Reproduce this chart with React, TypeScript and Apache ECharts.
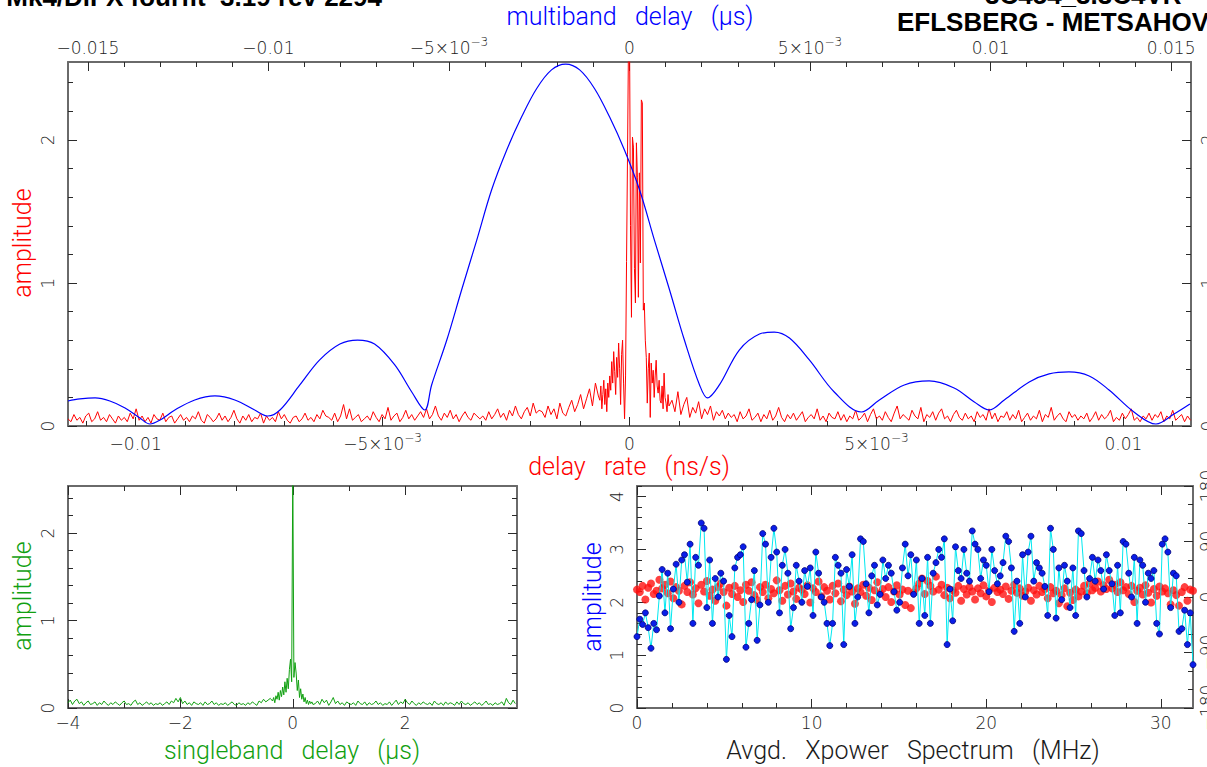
import React, { useEffect, useRef } from 'react';
import * as echarts from 'echarts';

// ---------------- tick labels ----------------
const rateLabels = [-0.01, -0.005, 0, 0.005, 0.01];
const mbdLabels = [-0.015, -0.01, -0.005, 0, 0.005, 0.01, 0.015];
const ampLabels = [0, 1, 2];
const sbdLabels = [-4, -2, 0, 2];
const freqLabels = [0, 10, 20, 30];
const specAmpLabels = [0, 1, 2, 3, 4];
const phaseLabels = [-180, -90, 0, 90, 180];

// ---------------- multiband delay function (blue, top axis) ----------------
// delay in units of 1e-3 microseconds
const mbdDelay = [
  -15.55, -15.22, -14.8, -14.39, -13.97, -13.56, -13.28, -13.0, -12.59, -12.04,
  -11.48, -10.93, -10.38, -10.02, -9.68, -9.13, -8.58, -8.02, -7.53, -7.06,
  -6.5, -6.03, -5.67, -5.48, -5.06, -4.65, -4.23, -3.82, -3.4, -2.99,
  -2.57, -2.16, -1.77, -1.38, -0.97, -0.55, -0.14, 0.28, 0.69, 1.11,
  1.52, 1.94, 2.16, 2.49, 3.04, 3.6, 4.01, 4.43, 4.98, 5.67,
  6.42, 6.92, 7.61, 8.3, 8.99, 9.55, 9.96, 10.38, 11.07, 11.62,
  12.17, 12.73, 13.28, 13.97, 14.58, 15.08, 15.52,
];
const mbdAmp = [
  0.175, 0.189, 0.196, 0.175, 0.126, 0.056, 0.014, 0.042, 0.112, 0.182,
  0.21, 0.182, 0.112, 0.07, 0.112, 0.287, 0.462, 0.573, 0.601, 0.573,
  0.427, 0.238, 0.112, 0.287, 0.601, 0.951, 1.3, 1.65, 1.93, 2.16,
  2.36, 2.49, 2.53, 2.49, 2.36, 2.16, 1.93, 1.65, 1.3, 0.951,
  0.601, 0.287, 0.196, 0.287, 0.531, 0.643, 0.657, 0.615, 0.462, 0.238,
  0.098, 0.182, 0.287, 0.315, 0.266, 0.168, 0.112, 0.182, 0.308, 0.364,
  0.378, 0.35, 0.252, 0.098, 0.014, 0.084, 0.154,
];

// ---------------- delay-rate function (red, bottom axis) ----------------
const rateLeftStart = -0.01137;
const rateLeftStep = 0.00006;
// amplitude x 0.01
const rateLeft = [
  5, 3, 8, 4, 6, 2, 7, 9, 3, 5, 10, 4, 6, 3, 8, 5, 2, 7, 4, 6,
  3, 9, 5, 12, 4, 7, 3, 6, 2, 8, 5, 4, 9, 3, 6, 7, 2, 5, 8, 4,
  6, 3, 7, 5, 10, 4, 2, 8, 6, 3, 5, 9, 4, 7, 3, 6, 11, 5, 2, 7,
  4, 8, 3, 6, 5, 9, 2, 7, 4, 6, 3, 10, 5, 8, 4, 2, 6, 7, 3, 5,
  9, 4, 6, 3, 8, 5, 11, 7, 6, 4, 9, 3, 7, 15, 5, 12, 4, 6, 8, 3,
  5, 7, 4, 10, 6, 3, 8, 5, 13, 4, 7, 9, 3, 6, 11, 5, 8, 4, 7, 10,
  6, 12, 5, 8, 14, 7, 4, 9, 6, 11, 5, 8, 3, 7, 10, 6, 4, 9, 7, 5,
  7, 4, 10, 5, 8, 12, 6, 9, 4, 11, 7, 14, 8, 5, 10, 13, 7, 16, 9, 11,
  10, 6, 14, 8, 12, 5, 16, 9, 7, 13, 18, 10, 15, 22, 12, 19, 26, 14, 30, 21,
];
const rateCoreStart = -0.0006;
const rateCoreStep = 0.00002;
const rateCore = [
  0.18, 0.28, 0.12, 0.22, 0.32, 0.15, 0.26, 0.1, 0.3, 0.2,
  0.35, 0.25, 0.45, 0.3, 0.52, 0.38, 0.22, 0.48, 0.34, 0.58,
  0.4, 0.15, 0.5, 0.6, 0.3, 0.05, 0.35, 1.15, 1.9, 2.7,
  2.8, 1.4, 0.76, 2.02, 1.95, 1.1, 0.86, 1.98, 1.74, 0.9,
  1.77, 1.14, 2.28, 2.26, 0.81, 0.86, 0.6, 0.48, 0.16, 0.4,
  0.51, 0.06, 0.44, 0.3, 0.39, 0.2, 0.35, 0.46, 0.28, 0.23,
  0.32, 0.18, 0.16, 0.28, 0.12, 0.37, 0.2, 0.16, 0.1, 0.22,
  0.14,
];
const rateRightStart = 0.00086;
const rateRightStep = 0.00006;
const rateRight = [
  18, 10, 24, 8, 15, 20, 6, 13, 9, 17, 5, 12, 8, 14, 4, 10, 7, 11, 5, 9,
  6, 8, 3, 10, 5, 7, 12, 4, 6, 9, 3, 8, 5, 11, 4, 7, 13, 6, 3, 8,
  5, 9, 4, 7, 10, 3, 6, 8, 5, 12, 4, 7, 3, 9, 6, 5, 10, 4, 8, 3,
  7, 5, 11, 4, 6, 9, 3, 8, 12, 5, 7, 4, 10, 6, 3, 9, 14, 5, 8, 6,
  4, 11, 7, 5, 13, 3, 8, 6, 10, 4, 9, 12, 5, 7, 3, 8, 11, 6, 4, 9,
  5, 7, 3, 10, 6, 8, 4, 12, 5, 9, 3, 7, 6, 10, 4, 8, 5, 11, 3, 6,
  9, 4, 7, 5, 11, 3, 8, 6, 13, 4, 7, 9, 5, 3, 10, 6, 8, 4, 7, 5,
  9, 3, 6, 10, 4, 8, 5, 7, 11, 3, 6, 4, 9, 5, 8, 12, 4, 6, 3, 7,
  5, 9, 4, 8, 6, 10, 3, 7, 5, 11, 4, 6, 8, 3, 7, 4,
];

// ---------------- singleband delay function (green) ----------------
const sbdLeftStart = -4;
const sbdLeftStep = 0.04;
const sbdLeft = [
  6, 9, 4, 8, 10, 5, 7, 3, 6, 8,
  4, 5, 7, 3, 6, 4, 8, 5, 3, 6,
  4, 7, 5, 3, 6, 8, 4, 5, 3, 7,
  9, 4, 6, 3, 5, 7, 4, 6, 3, 5,
  4, 6, 3, 5, 7, 4, 8, 6, 11, 7,
  12, 5, 8, 4, 6, 3, 7, 5, 4, 6,
  3, 7, 4, 5, 8, 4, 6, 3, 5, 4,
  6, 3, 5, 7, 4, 3, 6, 4, 5, 3,
  6, 4, 7, 5, 3, 8, 6, 10, 7, 9,
  11,
];
const sbdCoreStart = -0.36;
const sbdCoreStep = 0.02;
const sbdCore = [
  0.08, 0.12, 0.06, 0.14, 0.1, 0.18, 0.09, 0.2, 0.13, 0.24,
  0.15, 0.3, 0.18, 0.34, 0.22, 0.44, 0.56, 0.3, 2.7, 0.35,
  0.52, 0.4, 0.2, 0.32, 0.12, 0.22, 0.1, 0.16, 0.07, 0.12,
  0.05, 0.09, 0.04, 0.08, 0.05, 0.07, 0.04,
];
const sbdRightStart = 0.4;
const sbdRightStep = 0.04;
const sbdRight = [
  5, 8, 4, 10, 6, 9, 3, 7, 12, 5,
  8, 4, 6, 3, 7, 5, 4, 6, 3, 8,
  5, 4, 7, 3, 6, 4, 5, 8, 4, 6,
  3, 5, 4, 7, 3, 6, 9, 4, 7, 5,
  10, 6, 4, 8, 5, 3, 6, 4, 7, 5,
  4, 6, 3, 8, 5, 4, 6, 3, 7, 4,
  6, 5, 3, 7, 4, 8, 5, 4, 6, 3,
  5, 7, 4, 6, 3, 5, 8, 4, 5, 3,
  6, 4, 5, 7, 3, 11, 6, 4, 9, 5,
];

// ---------------- averaged cross-power spectrum ----------------
const freqStep = 0.16; // MHz
// amplitude x 0.01
const specAmp = [
  135, 168, 158, 180, 152, 113, 160, 148, 212, 262,
  180, 255, 150, 225, 272, 200, 280, 290, 238, 310,
  160, 285, 270, 350, 340, 190, 280, 160, 245, 210,
  255, 240, 92, 175, 135, 265, 285, 290, 305, 115,
  160, 205, 260, 128, 195, 330, 310, 200, 285, 340,
  295, 180, 270, 300, 255, 150, 190, 270, 240, 200,
  260, 230, 265, 175, 295, 255, 210, 200, 160, 118,
  160, 285, 270, 255, 120, 262, 230, 290, 160, 210,
  320, 315, 235, 180, 250, 270, 195, 215, 280, 245,
  270, 255, 220, 185, 200, 265, 310, 250, 290, 215,
  280, 160, 245, 175, 285, 160, 255, 275, 300, 285,
  320, 120, 225, 165, 305, 260, 245, 300, 255, 240,
  335, 310, 300, 245, 280, 270, 220, 300, 260, 235,
  250, 275, 325, 315, 265, 145, 240, 160, 290, 210,
  295, 325, 240, 275, 265, 255, 230, 175, 340, 300,
  170, 265, 205, 270, 240, 190, 265, 175, 335, 330,
  260, 210, 245, 285, 240, 280, 260, 225, 290, 260,
  235, 175, 270, 180, 315, 310, 255, 210, 285, 160,
  280, 270, 200, 255, 245, 260, 160, 140, 310, 320,
  295, 190, 255, 250, 145, 150, 185, 120, 180, 82,
];
// phase in degrees
const specPhase = [
  12, 8, 18, -4, 15, 22, 5, 10, 28, 14,
  20, 6, 25, -2, 16, 10, -12, 18, 8, 24,
  4, 14, -10, 20, 9, 26, 2, 12, -6, 16,
  22, 8, -14, 15, 5, 18, 0, 11, -8, 20,
  10, 24, 3, -5, 16, 8, 20, -2, 13, 6,
  27, 11, -6, 18, 4, 22, 9, -3, 15, 12,
  5, 19, -9, 14, 8, 25, 1, 16, 10, -4,
  18, 6, 22, -7, 12, 3, 17, 9, -11, 14,
  8, 20, 2, 15, -5, 11, 24, 6, 13, 0,
  16, -8, 9, 19, 4, 12, -13, 10, -18, 7,
  14, 22, 30, 5, 26, 18, 9, 33, 12, 20,
  3, 15, -2, 11, 7, 18, -6, 13, 4, 16,
  9, -4, 14, 6, 19, 1, 11, -8, 15, 8,
  12, 5, 17, -3, 10, 20, 7, 14, 2, 9,
  15, -6, 11, 4, 18, 8, 13, -2, 16, 6,
  10, -10, 3, 14, -15, 7, -5, 12, 1, 9,
  18, 6, 22, 11, 15, 25, 9, 19, 13, 28,
  14, 20, 8, 24, 11, 16, 5, 18, -8, 10,
  15, 4, 19, 7, -9, 13, 2, 17, 9, 14,
  6, -12, 11, 3, -14, 8, 16, -6, 12, 10,
];

// ---------------- helpers ----------------
const FONT = 'Roboto';
const TICK_FONT = '"DejaVu Sans"';
const MINUS = '\u2212';
const LABEL_COLOR = '#1a1a1a';

function steps(a: number, b: number, step: number): number[] {
  const out: number[] = [];
  const k0 = Math.ceil(a / step - 1e-9);
  const k1 = Math.floor(b / step + 1e-9);
  for (let k = k0; k <= k1; k++) out.push(parseFloat((k * step).toFixed(6)));
  return out;
}

const rich = {
  b: { fontFamily: TICK_FONT, fontWeight: 200, fontSize: 17, lineHeight: 22, color: LABEL_COLOR, verticalAlign: 'bottom' },
  s: { fontFamily: TICK_FONT, fontWeight: 200, fontSize: 12, lineHeight: 12, color: LABEL_COLOR, verticalAlign: 'bottom', padding: [0, 0, 8, 0] },
};

function sciLabel(v: number): string {
  if (Math.abs(Math.abs(v) - 0.005) < 1e-9) return `{b|${v < 0 ? MINUS : ''}5×10}{s|${MINUS}3}`;
  return `{b|${String(v).replace('-', MINUS)}}`;
}
function plainLabel(v: number): string {
  return String(v).replace('-', MINUS);
}

type AxisSpec = {
  grid: number; pos: string; min: number; max: number;
  majors: number[]; minors: number[];
  label?: boolean; sci?: boolean; rotate?: number; margin?: number;
};

function buildAxes(spec: AxisSpec): any[] {
  const base = {
    type: 'value', gridIndex: spec.grid, position: spec.pos,
    min: spec.min, max: spec.max, splitLine: { show: false },
  };
  const major = {
    ...base,
    axisLine: { show: true, onZero: false, lineStyle: { color: '#6a6a6a', width: 2 } },
    axisTick: { show: true, inside: true, length: 9, customValues: spec.majors, lineStyle: { color: '#2a2a2a', width: 1 } },
    axisLabel: spec.label ? {
      show: true, customValues: spec.majors, rotate: spec.rotate || 0,
      margin: spec.margin ?? 8,
      formatter: spec.sci ? sciLabel : plainLabel,
      rich: spec.sci ? rich : undefined,
      fontFamily: TICK_FONT, fontWeight: 200, fontSize: 17, color: LABEL_COLOR,
    } : { show: false },
  };
  const minor = {
    ...base,
    axisLine: { show: false, onZero: false },
    axisTick: { show: true, inside: true, length: 5, customValues: spec.minors, lineStyle: { color: '#2a2a2a', width: 1 } },
    axisLabel: { show: false },
  };
  return [major, minor];
}

function titleText(text: string, x: number, y: number, color: string, rotate = false, size = 25) {
  return {
    type: 'text', x, y, rotation: rotate ? Math.PI / 2 : 0, silent: true,
    style: {
      text, fill: color, fontFamily: FONT, fontWeight: 300, fontSize: size,
      align: 'center', verticalAlign: 'middle',
    },
  };
}

function headText(text: string, x: number, y: number, align: string) {
  return {
    type: 'text', x, y, silent: true,
    style: {
      text, fill: '#000', fontFamily: '"Liberation Sans", Arial, sans-serif', fontWeight: 'bold', fontSize: 26,
      align, verticalAlign: 'middle',
    },
  };
}

function buildOption() {
  const xAxes: any[] = [];
  const yAxes: any[] = [];
  const addX = (s: AxisSpec) => { const i = xAxes.length; xAxes.push(...buildAxes(s)); return i; };
  const addY = (s: AxisSpec) => { const i = yAxes.length; yAxes.push(...buildAxes(s)); return i; };

  const RATE_MAX = 0.01137;
  const MBD_MAX = 0.01555;
  const AMP_MAX = 2.545;
  const SBD_MIN = -4, SBD_MAX = 3.99;
  const FREQ_MAX = 31.84;
  const SPEC_MAX = 4.2;

  // top panel
  const xRate = addX({ grid: 0, pos: 'bottom', min: -RATE_MAX, max: RATE_MAX, majors: rateLabels, minors: steps(-RATE_MAX, RATE_MAX, 0.001), label: true, sci: true, margin: 4 });
  const xMbd = addX({ grid: 0, pos: 'top', min: -MBD_MAX, max: MBD_MAX, majors: mbdLabels, minors: steps(-MBD_MAX, MBD_MAX, 0.001), label: true, sci: true, margin: 6 });
  const yAmp = addY({ grid: 0, pos: 'left', min: 0, max: AMP_MAX, majors: ampLabels, minors: steps(0, AMP_MAX, 0.2), label: true, rotate: 90, margin: 12 });
  addY({ grid: 0, pos: 'right', min: 0, max: AMP_MAX, majors: ampLabels, minors: steps(0, AMP_MAX, 0.2), label: true, rotate: 90, margin: 8 });

  // bottom-left panel
  const xSbd = addX({ grid: 1, pos: 'bottom', min: SBD_MIN, max: SBD_MAX, majors: sbdLabels, minors: steps(SBD_MIN, SBD_MAX, 1), label: true, margin: 6 });
  addX({ grid: 1, pos: 'top', min: SBD_MIN, max: SBD_MAX, majors: sbdLabels, minors: steps(SBD_MIN, SBD_MAX, 1) });
  const ySbd = addY({ grid: 1, pos: 'left', min: 0, max: 2.54, majors: ampLabels, minors: steps(0, 2.54, 0.2), label: true, rotate: 90, margin: 12 });
  addY({ grid: 1, pos: 'right', min: 0, max: 2.54, majors: ampLabels, minors: steps(0, 2.54, 0.2) });

  // bottom-right panel
  const xFreq = addX({ grid: 2, pos: 'bottom', min: 0, max: FREQ_MAX, majors: freqLabels, minors: steps(0, FREQ_MAX, 2), label: true, margin: 6 });
  addX({ grid: 2, pos: 'top', min: 0, max: FREQ_MAX, majors: freqLabels, minors: steps(0, FREQ_MAX, 2) });
  const ySpec = addY({ grid: 2, pos: 'left', min: 0, max: SPEC_MAX, majors: specAmpLabels, minors: steps(0, SPEC_MAX, 0.2), label: true, rotate: 90, margin: 12 });
  const yPhase = addY({ grid: 2, pos: 'right', min: -180, max: 180, majors: phaseLabels, minors: steps(-180, 180, 30), label: true, rotate: 90, margin: 5 });

  const rateData = [
    ...rateLeft.map((v, i) => [rateLeftStart + i * rateLeftStep, v / 100]),
    ...rateCore.map((v, i) => [rateCoreStart + i * rateCoreStep, v]),
    ...rateRight.map((v, i) => [rateRightStart + i * rateRightStep, v / 100]),
  ];
  const mbdData = mbdDelay.map((d, i) => [d / 1000, mbdAmp[i]]);
  const sbdData = [
    ...sbdLeft.map((v, i) => [sbdLeftStart + i * sbdLeftStep, v / 100]),
    ...sbdCore.map((v, i) => [sbdCoreStart + i * sbdCoreStep, v]),
    ...sbdRight.map((v, i) => [sbdRightStart + i * sbdRightStep, v / 100]),
  ];
  const ampData = specAmp.map((v, i) => [i * freqStep, v / 100]);
  const phaseData = specPhase.map((v, i) => [i * freqStep, v]);

  const series: any[] = [
    {
      type: 'line', name: 'delay rate', xAxisIndex: xRate, yAxisIndex: yAmp, data: rateData,
      showSymbol: false, clip: true, lineStyle: { color: '#ff0000', width: 1 },
    },
    {
      type: 'line', name: 'multiband delay', xAxisIndex: xMbd, yAxisIndex: yAmp, data: mbdData,
      showSymbol: false, smooth: 0.35, clip: true, lineStyle: { color: '#0000ff', width: 1.2 },
    },
    {
      type: 'line', name: 'singleband delay', xAxisIndex: xSbd, yAxisIndex: ySbd, data: sbdData,
      showSymbol: false, clip: true, lineStyle: { color: '#11a011', width: 1 },
    },
    {
      type: 'line', name: 'amplitude', xAxisIndex: xFreq, yAxisIndex: ySpec, data: ampData,
      showSymbol: true, showAllSymbol: true, symbol: 'circle', symbolSize: 6, clip: true,
      lineStyle: { color: '#00e8f0', width: 1 },
      itemStyle: { color: '#0a1ee8', borderColor: '#00007a', borderWidth: 0.8 },
    },
    {
      type: 'scatter', name: 'phase', xAxisIndex: xFreq, yAxisIndex: yPhase, data: phaseData,
      symbol: 'circle', symbolSize: 8, itemStyle: { color: '#ff1010' },
    },
  ];

  const graphic = [
    headText('Mk4/DiFX fourfit  3.19 rev 2294', 382, -3, 'right'),
    headText('3C454_3.3C4VR', 985, -5, 'left'),
    headText('EFLSBERG - METSAHOVI', 897, 22, 'left'),
    titleText('multiband   delay   (\u03bcs)', 630, 16, '#0000ff'),
    titleText('delay   rate   (ns/s)', 629, 466, '#ff0000'),
    titleText('amplitude', 22, 243, '#ff0000', true),
    titleText('amplitude', 22, 596, '#11a011', true),
    titleText('singleband   delay   (\u03bcs)', 292, 750, '#11a011'),
    titleText('amplitude', 592, 597, '#0000ff', true),
    titleText('Avgd.   Xpower   Spectrum   (MHz)', 913, 750, '#1a1a1a'),
  ];

  return {
    animation: false,
    backgroundColor: '#ffffff',
    grid: [
      { left: 68, top: 62, width: 1123, height: 364, outerBoundsMode: 'none', containLabel: false },
      { left: 68, top: 486, width: 449, height: 222, outerBoundsMode: 'none', containLabel: false },
      { left: 637, top: 486, width: 556, height: 222, outerBoundsMode: 'none', containLabel: false },
    ],
    xAxis: xAxes,
    yAxis: yAxes,
    series,
    graphic,
  };
}

export default function App() {
  const ref = useRef<HTMLDivElement>(null);
  useEffect(() => {
    if (!ref.current) return;
    const chart = echarts.init(ref.current, undefined, { renderer: 'svg' });
    chart.setOption(buildOption() as any);
    return () => chart.dispose();
  }, []);
  return (
    <div
      ref={ref}
      style={{ position: 'absolute', left: 0, top: 0, width: 1207, height: 767, overflow: 'hidden', background: '#fff' }}
    />
  );
}
